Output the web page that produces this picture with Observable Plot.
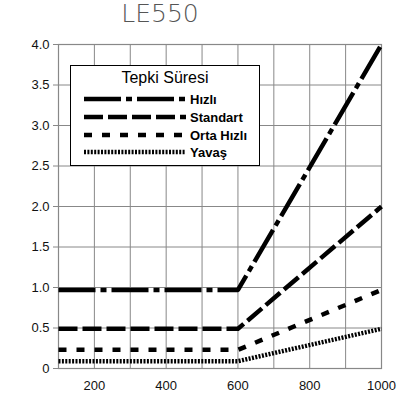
<!DOCTYPE html>
<html><head><meta charset="utf-8">
<script src="https://cdn.jsdelivr.net/npm/d3@7"></script>
<script src="https://cdn.jsdelivr.net/npm/@observablehq/plot@0.6"></script>
<style>
body{margin:0;background:#fff;font-family:"Liberation Sans",Arial,sans-serif;}
#wrap{position:relative;width:417px;height:401px;}
#title{position:absolute;left:0;width:320px;top:-1px;line-height:30px;text-align:center;font-size:25px;color:#555;font-family:"DejaVu Sans","Liberation Sans",sans-serif;font-weight:200;}
#chart{position:absolute;left:0;top:33px;}
#legend{position:absolute;left:70px;top:65px;width:188px;height:99px;border:1.5px solid #000;background:#fff;font-family:"Liberation Sans Narrow","Liberation Sans",Arial,sans-serif;}
#legend .t{position:absolute;left:0;width:100%;top:3px;text-align:center;font-size:16px;}
#legend .row{position:absolute;left:13px;height:16px;display:flex;align-items:center;}
#legend .row span{font-size:13px;font-weight:bold;margin-left:4px;}
</style></head>
<body><div id="wrap"><div id="title">LE550</div><div id="chart"></div><div id="legend"></div></div>
<script>
const xs = [100, 600, 1000];
const seriesNames = ["Hızlı", "Standart", "Orta Hızlı", "Yavaş"];
const hizli = [0.97, 0.97, 4.0];
const standart = [0.49, 0.49, 2.0];
const ortaHizli = [0.23, 0.23, 0.97];
const yavas = [0.09, 0.09, 0.49];
const xTicks = [200, 400, 600, 800, 1000];
const yTicks = [0, 0.5, 1.0, 1.5, 2.0, 2.5, 3.0, 3.5, 4.0];
const legendTitle = "Tepki Süresi";

const styles = [
  {dash: "37,5,6,5", w: 4.5},
  {dash: "19,5", w: 4.5},
  {dash: "8,10", w: 4.5},
  {dash: "2,1.4", w: 4.5}
];
const allVals = [hizli, standart, ortaHizli, yavas];
const series = seriesNames.map((name, i) => xs.map((x, j) => ({x, y: allVals[i][j], name})));

const chart = Plot.plot({
  width: 417, height: 366,
  marginLeft: 58, marginRight: 36, marginTop: 11, marginBottom: 31,
  x: {domain: [100, 1000], label: null},
  y: {domain: [0, 4], label: null},
  style: {fontSize: "13px", fontFamily: "Liberation Sans, Arial, sans-serif", color: "#111"},
  marks: [
    Plot.gridX(d3.range(100, 1001, 100), {stroke: "#888", strokeOpacity: 1, strokeWidth: 1}),
    Plot.gridY(yTicks, {stroke: "#888", strokeOpacity: 1, strokeWidth: 1}),
    Plot.frame({stroke: "#888", strokeWidth: 1.2}),
    Plot.axisX(xTicks, {tickSize: 0, tickPadding: 12, fontSize: 13, label: null, tickFormat: d => String(d)}),
    Plot.axisY(yTicks, {tickSize: 5, stroke: "#888", tickPadding: 4, fontSize: 13, label: null, tickFormat: d => d === 0 ? "0" : d.toFixed(1)}),
    ...series.map((s, i) => Plot.line(s, {x: "x", y: "y", stroke: "#000", strokeWidth: styles[i].w, strokeDasharray: styles[i].dash, strokeLinecap: "butt"}))
  ]
});
document.getElementById("chart").appendChild(chart);

const lg = document.getElementById("legend");
const t = document.createElement("div"); t.className = "t"; t.textContent = legendTitle; lg.appendChild(t);
const tops = [25, 43, 61, 78];
seriesNames.forEach((n, i) => {
  const r = document.createElement("div"); r.className = "row"; r.style.top = tops[i] + "px";
  r.innerHTML = `<svg width="102" height="8"><line x1="0" x2="102" y1="4" y2="4" stroke="#000" stroke-width="${styles[i].w}" stroke-dasharray="${styles[i].dash}"/></svg><span>${n}</span>`;
  lg.appendChild(r);
});
</script></body></html>
